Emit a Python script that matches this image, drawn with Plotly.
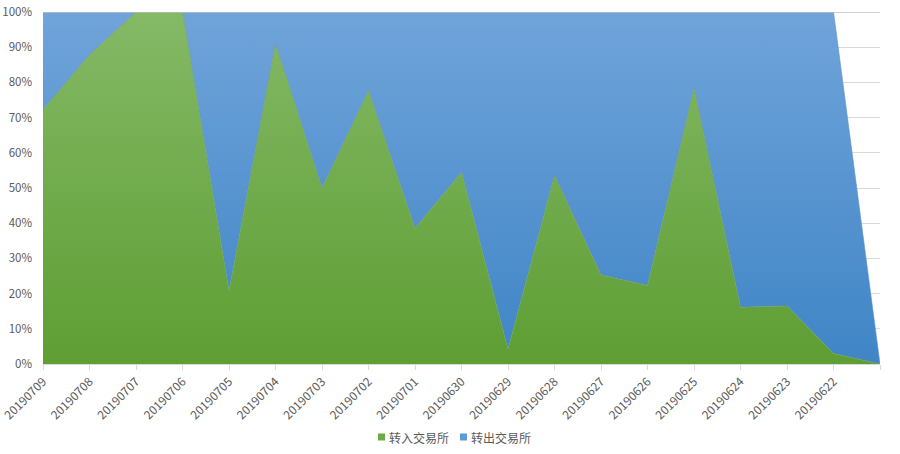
import plotly.graph_objects as go

categories = ["20190709", "20190708", "20190707", "20190706", "20190705", "20190704",
              "20190703", "20190702", "20190701", "20190630", "20190629", "20190628",
              "20190627", "20190626", "20190625", "20190624", "20190623", "20190622", ""]
transfer_in = [72.2, 87.8, 100, 100, 20.8, 90.9, 49.9, 77.6, 38.5, 54.5, 4.2, 53.5,
               25.3, 22.3, 78.3, 16.1, 16.5, 3.0, 0]
transfer_out = [27.8, 12.2, 0, 0, 79.2, 9.1, 50.1, 22.4, 61.5, 45.5, 95.8, 46.5,
                74.7, 77.7, 21.7, 83.9, 83.5, 97.0, 0]
y_ticks = [0, 10, 20, 30, 40, 50, 60, 70, 80, 90, 100]
series_names = ["转入交易所", "转出交易所"]
series_colors = ["#6aab45", "#5b9bd5"]

x = list(range(len(categories)))

fig = go.Figure()
fig.add_trace(go.Scatter(
    x=x, y=transfer_in, name=series_names[0], stackgroup="one", mode="lines",
    line=dict(width=0.6, color="#6f9e52"), showlegend=False,
    fillgradient=dict(type="vertical", start=0, stop=100,
                      colorscale=[[0, "#5e9e33"], [1, "#84b966"]]),
))
fig.add_trace(go.Scatter(
    x=x, y=transfer_out, name=series_names[1], stackgroup="one", mode="lines",
    line=dict(width=0.6, color="#5b8fc4"), showlegend=False,
    fillgradient=dict(type="vertical", start=0, stop=100,
                      colorscale=[[0, "#3f85c6"], [1, "#70a4da"]]),
))

# plot-area border at 100%
fig.add_shape(type="line", xref="paper", yref="y", x0=0, x1=1, y0=100, y1=100,
              line=dict(color="#bfbfbf", width=1.5), layer="above")

# custom legend (swatches + text) below the chart
legend_x = [0.4002, 0.4982]
for name, col, lx in zip(series_names, series_colors, legend_x):
    fig.add_shape(type="rect", xref="paper", yref="paper",
                  x0=lx, x1=lx + 0.0084, y0=-0.2173, y1=-0.1974,
                  fillcolor=col, line=dict(width=0))
    fig.add_annotation(xref="paper", yref="paper", x=lx + 0.0108, y=-0.2074,
                       text=name, showarrow=False, xanchor="left", yanchor="middle",
                       font=dict(size=12, color="#595959"))

fig.update_layout(
    width=900, height=454,
    margin=dict(l=43, r=20, t=12, b=90),
    paper_bgcolor="white", plot_bgcolor="white",
    font=dict(family="Microsoft YaHei, Noto Sans CJK SC, sans-serif", color="#595959", size=11),
    showlegend=False,
    xaxis=dict(
        tickmode="array", tickvals=x, ticktext=categories, tickangle=-45,
        range=[0, len(categories) - 1], showgrid=False, zeroline=False, automargin=False,
        showline=True, linecolor="#d9d9d9", ticks="outside", ticklen=5, tickcolor="#d9d9d9",
        tickfont=dict(size=12, color="#595959"), ticklabeloverflow="allow",
    ),
    yaxis=dict(
        tickmode="array", tickvals=y_ticks, ticktext=[f"{v}%" for v in y_ticks],
        range=[0, 100], showgrid=True, gridcolor="#d9d9d9", gridwidth=1, automargin=False,
        zeroline=False, showline=False, ticks="", ticklabelstandoff=10,
        tickfont=dict(size=11.5, color="#595959"), ticklabeloverflow="allow",
    ),
)

fig.write_html("out.html", config={"displayModeBar": False},
               post_script="document.body.style.margin='0';document.body.style.overflow='hidden';")
